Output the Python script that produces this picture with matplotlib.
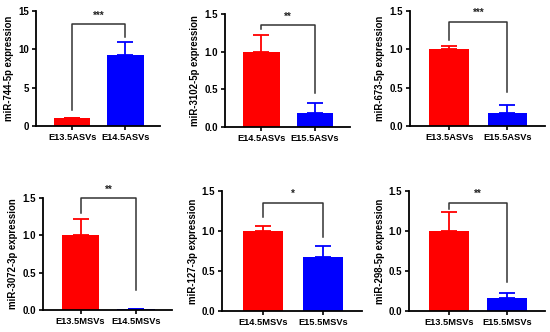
import matplotlib
matplotlib.use("Agg")
import matplotlib.pyplot as plt

plt.rcParams['font.family'] = ['Liberation Sans', 'DejaVu Sans']
plt.rcParams['font.weight'] = 'bold'

ylabels = ["miR-744-5p expression", "miR-3102-5p expression", "miR-673-5p expression",
           "miR-3072-3p expression", "miR-127-3p expression", "miR-298-5p expression"]
groups = [["E13.5ASVs", "E14.5ASVs"], ["E14.5ASVs", "E15.5ASVs"], ["E13.5ASVs", "E15.5ASVs"],
          ["E13.5MSVs", "E14.5MSVs"], ["E14.5MSVs", "E15.5MSVs"], ["E13.5MSVs", "E15.5MSVs"]]
means = [[1.0, 9.3], [1.0, 0.19], [1.0, 0.17], [1.0, 0.015], [1.0, 0.67], [1.0, 0.16]]
errs = [[0.08, 1.6], [0.22, 0.13], [0.04, 0.11], [0.22, 0.005], [0.06, 0.14], [0.24, 0.07]]
stars = ["***", "**", "***", "**", "*", "**"]
bracket_y = [13.3, 1.355, 1.36, 1.5, 1.35, 1.35]
drop_left = [2.1, 1.30, 1.12, 1.30, 1.17, 1.27]
drop_right = [11.6, 0.45, 0.44, 0.27, 0.92, 0.36]
ymax = [15, 1.5, 1.5, 1.5, 1.5, 1.5]
yticks = [[0, 5, 10, 15], [0.0, 0.5, 1.0, 1.5], [0.0, 0.5, 1.0, 1.5],
          [0.0, 0.5, 1.0, 1.5], [0.0, 0.5, 1.0, 1.5], [0.0, 0.5, 1.0, 1.5]]
ytick_labels = [["0", "5", "10", "15"]] + [["0.0", "0.5", "1.0", "1.5"]] * 5

positions = [
    [0.0655, 0.620, 0.2255, 0.347],
    [0.409, 0.617, 0.227, 0.341],
    [0.745, 0.620, 0.246, 0.347],
    [0.078, 0.066, 0.235, 0.338],
    [0.404, 0.063, 0.254, 0.362],
    [0.744, 0.063, 0.247, 0.362],
]
colors = ["#ff0000", "#0000ff"]

fig = plt.figure(figsize=(5.5, 3.32), dpi=100)
for i in range(6):
    ax = fig.add_axes(positions[i])
    x = [0, 1]
    for j in range(2):
        ax.bar(x[j], means[i][j], width=0.68, color=colors[j], zorder=2)
        ax.errorbar(x[j], means[i][j], yerr=[[0], [errs[i][j]]], color=colors[j],
                    capsize=6, elinewidth=1.3, capthick=1.3, zorder=1)
    # significance bracket
    ax.plot([0, 0, 1, 1], [drop_left[i], bracket_y[i], bracket_y[i], drop_right[i]],
            color="#333333", lw=1.1, clip_on=False)
    ax.text(0.5, bracket_y[i] + ymax[i] * 0.03, stars[i], ha="center", va="bottom",
            fontsize=7, fontweight="bold", color="#222222")
    ax.set_xlim(-0.68, 1.65)
    ax.set_ylim(0, ymax[i])
    ax.set_yticks(yticks[i])
    ax.set_yticklabels(ytick_labels[i], fontsize=7, fontweight="bold")
    ax.set_xticks(x)
    ax.set_xticklabels(groups[i], fontsize=6.7, fontweight="bold")
    ax.set_ylabel(ylabels[i], fontsize=6.9, fontweight="bold", labelpad=3)
    for s in ["top", "right"]:
        ax.spines[s].set_visible(False)
    for s in ["left", "bottom"]:
        ax.spines[s].set_linewidth(1.3)
    ax.tick_params(axis="both", width=1.2, length=3, pad=2)

fig.savefig("out.png", dpi=100)
